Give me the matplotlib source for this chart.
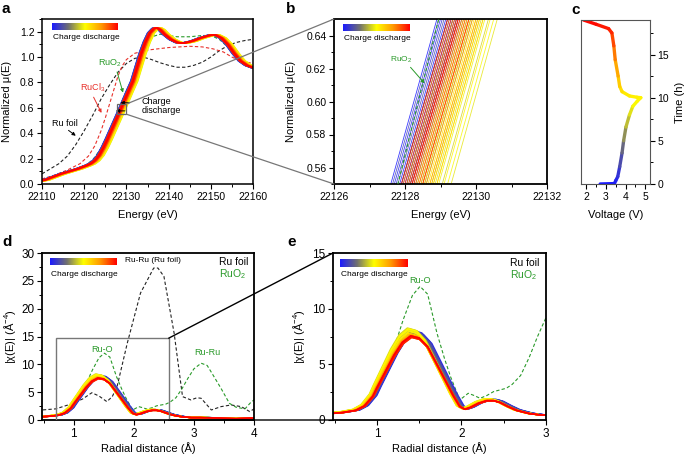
import numpy as np
import matplotlib
matplotlib.use('Agg')
import matplotlib.pyplot as plt
from matplotlib.colors import LinearSegmentedColormap, Normalize
from matplotlib.collections import LineCollection
from matplotlib.patches import Rectangle, ConnectionPatch
from matplotlib.ticker import MultipleLocator, FormatStrFormatter

plt.rcParams['font.family'] = ['Liberation Sans', 'DejaVu Sans']
plt.rcParams['mathtext.fontset'] = 'custom'
plt.rcParams['mathtext.rm'] = 'Liberation Sans'
plt.rcParams['mathtext.it'] = 'Liberation Sans:italic'
plt.rcParams['mathtext.bf'] = 'Liberation Sans:bold'

# ---------------- data ----------------
# XANES, in-situ spectra (first spectrum, others shifted in energy)
xanes_energy = [22105, 22110, 22112, 22114, 22116, 22118, 22120, 22121, 22122, 22123,
                22124, 22125, 22126, 22127, 22127.6, 22128.9, 22130, 22131, 22132,
                22133, 22134, 22135, 22136, 22136.7, 22137.5, 22138.5, 22140, 22141.5,
                22143, 22145, 22147, 22149, 22150.5, 22152, 22153.5, 22155, 22156.5,
                22158, 22160, 22162]
xanes_mu = [0.01, 0.03, 0.055, 0.08, 0.10, 0.12, 0.145, 0.16, 0.185, 0.225,
            0.285, 0.355, 0.43, 0.505, 0.55, 0.65, 0.735, 0.81, 0.92,
            1.03, 1.12, 1.19, 1.225, 1.23, 1.215, 1.18, 1.14, 1.115,
            1.11, 1.125, 1.15, 1.17, 1.175, 1.15, 1.10, 1.03, 0.97,
            0.935, 0.91, 0.89]
xanes_shift = [0.0, 0.25, 0.1, 0.4, 0.15, 0.55, 0.3, 0.05, 0.45, 0.2, 0.6, 0.35, 0.5, 0.3,
               0.45, 0.7, 0.55, 0.85, 0.65, 0.95, 0.75, 1.0,
               1.15, 1.45, 1.25, 1.7, 1.35, 1.6, 1.2, 1.5, 1.3, 1.1,
               1.05, 1.3, 0.9, 1.2, 0.95, 1.15, 0.85, 1.1, 0.8, 1.0, 0.75, 0.9,
               0.7, 0.45, 0.8, 0.35, 0.6, 0.5, 0.9, 0.4, 0.65, 0.55, 0.3, 0.6]

# XANES references
foil_energy = [22110, 22112, 22114, 22116, 22118, 22120, 22122, 22124, 22126, 22128,
               22130, 22132, 22134, 22136, 22138, 22140, 22142, 22144, 22146, 22148,
               22150, 22152, 22154, 22156, 22158, 22160]
foil_mu = [0.08, 0.12, 0.16, 0.22, 0.31, 0.42, 0.54, 0.67, 0.78, 0.88,
           0.95, 0.99, 1.0, 0.98, 0.955, 0.935, 0.92, 0.92, 0.935, 0.96,
           1.0, 1.05, 1.09, 1.115, 1.13, 1.14]
rucl3_energy = [22110, 22113, 22116, 22119, 22121, 22122.5, 22124, 22125, 22126, 22127,
                22128, 22129, 22130, 22132, 22135, 22140, 22145, 22148, 22150.5,
                22153, 22155, 22157, 22160]
rucl3_mu = [0.04, 0.07, 0.11, 0.16, 0.22, 0.30, 0.42, 0.52, 0.63, 0.74,
            0.85, 0.93, 0.98, 1.03, 1.055, 1.075, 1.085, 1.08, 1.065,
            1.04, 1.0, 0.97, 0.95]
ruo2_energy = [22110, 22115, 22120, 22122, 22124, 22126, 22127.8, 22128.95, 22130, 22131,
               22132, 22133, 22134, 22135, 22136, 22138, 22140, 22142, 22145, 22148,
               22150, 22152, 22154, 22156, 22158, 22160]
ruo2_mu = [0.03, 0.08, 0.14, 0.19, 0.28, 0.42, 0.55, 0.65, 0.73, 0.80,
           0.89, 0.98, 1.06, 1.12, 1.16, 1.18, 1.17, 1.16, 1.16, 1.17,
           1.17, 1.14, 1.08, 1.01, 0.96, 0.93]

# voltage profile
volt_time = [0, 0.05, 0.4, 0.85, 2.0, 3.6, 5.0, 6.6, 8.0, 9.0, 9.6, 10.0, 10.05, 10.2,
             10.7, 11.3, 12.5, 14.4, 16.0, 17.5, 18.0, 18.5, 19.0]
volt_value = [2.7, 3.43, 3.5, 3.6, 3.7, 3.82, 3.9, 4.02, 4.2, 4.37, 4.6, 4.78, 4.58, 4.2,
              3.82, 3.7, 3.62, 3.47, 3.4, 3.3, 3.13, 2.5, 1.85]

# FT-EXAFS
exafs_r = [0.3, 0.45, 0.6, 0.75, 0.85, 0.95, 1.0, 1.1, 1.2, 1.3, 1.4, 1.5, 1.6, 1.7,
           1.8, 1.9, 1.98, 2.04, 2.1, 2.2, 2.3, 2.38, 2.45, 2.55, 2.65, 2.8, 2.95,
           3.1, 3.3, 3.5, 3.7, 3.85, 4.0, 4.2]
exafs_amp = [0.5, 0.6, 0.7, 0.9, 1.3, 2.2, 3.0, 4.5, 6.0, 7.2, 7.8, 7.6, 6.8, 5.3,
             3.8, 2.3, 1.25, 1.0, 1.15, 1.55, 1.8, 1.8, 1.65, 1.25, 0.9, 0.6, 0.45,
             0.45, 0.4, 0.3, 0.25, 0.3, 0.35, 0.35]
exafs_scale = [1.0, 1.02, 1.01, 1.03, 1.0, 1.02, 1.01, 1.0, 0.99, 1.0,
               1.0, 1.01, 1.02, 1.03, 1.04, 1.05,
               1.05, 1.06, 1.04, 1.03, 1.05, 1.02, 1.0, 0.99,
               0.98, 0.97, 0.99, 0.96, 0.98, 0.97, 0.96, 0.97,
               0.96, 0.97, 0.95, 0.96, 0.97, 0.95, 0.96, 0.97]
exafs_shift = [0.04, 0.03, 0.05, 0.03, 0.04, 0.02, 0.03, 0.02, 0.02, 0.01,
               0.0, 0.0, -0.01, -0.01, -0.02, -0.02,
               -0.03, -0.04, -0.03, -0.04, -0.03, -0.02, -0.03, -0.02,
               -0.02, -0.01, -0.01, 0.0, -0.01, 0.0, 0.0, -0.01,
               0.0, 0.0, 0.01, 0.0, 0.0, 0.01, 0.0, 0.0]

foil_r = [0.3, 0.47, 0.7, 0.99, 1.15, 1.3, 1.42, 1.55, 1.64, 1.72, 1.89, 2.11, 2.33, 2.4,
          2.5, 2.67, 2.81, 2.95, 3.05, 3.12, 3.29, 3.45, 3.62, 3.79, 3.93, 4.0, 4.2]
foil_amp = [1.7, 1.8, 2.0, 3.0, 3.8, 4.9, 4.3, 3.3, 4.2, 6.0, 13.8, 22.8, 27.3, 27.3,
            25.8, 15.6, 4.2, 3.6, 4.0, 3.9, 1.8, 2.4, 2.7, 2.4, 1.5, 2.0, 2.0]
ruo2_r = [0.3, 0.47, 0.6, 0.8, 0.9, 1.0, 1.1, 1.2, 1.31, 1.42, 1.51, 1.6, 1.71, 1.8, 1.87,
          1.98, 2.08, 2.15, 2.22, 2.3, 2.38, 2.53, 2.6, 2.7, 2.8, 2.9, 3.0, 3.12,
          3.22, 3.3, 3.45, 3.59, 3.7, 3.85, 3.95, 4.0, 4.2]
ruo2_amp = [0.7, 0.7, 0.75, 0.9, 1.6, 3.0, 4.6, 6.4, 9.0, 11.2, 12.0, 11.3, 7.8, 5.5, 3.9,
            1.8, 2.4, 2.2, 1.95, 2.2, 2.55, 2.85, 3.2, 4.0, 5.6, 7.5, 9.2, 10.2,
            9.8, 8.4, 5.7, 3.0, 2.3, 2.0, 3.2, 3.6, 3.6]

# ---------------- style ----------------
cmap = LinearSegmentedColormap.from_list(
    'cd', [(0.0, '#1a1aff'), (0.25, '#707070'), (0.5, '#ffff00'),
           (0.75, '#ff9900'), (1.0, '#ff0000')])
c_foil = '#222222'
c_rucl3 = '#e8302a'
c_ruo2 = '#2a9a2a'
dash = (0, (3, 2))

W, H = 685, 455
fig = plt.figure(figsize=(W / 100, H / 100), dpi=100)


def px_axes(x0, y0, x1, y1):
    return fig.add_axes([x0 / W, 1 - y1 / H, (x1 - x0) / W, (y1 - y0) / H])


def grad_bar(x0, y0, x1, y1, tx, ty):
    g = px_axes(x0, y0, x1, y1)
    g.imshow(np.linspace(0, 1, 256)[None, :], aspect='auto', cmap=cmap)
    g.set_axis_off()
    fig.text(tx / W, 1 - ty / H, 'Charge discharge', fontsize=6,
             ha='left', va='center')


def style(ax, fs=7.5, lw=1.1):
    for s in ax.spines.values():
        s.set_linewidth(lw)
    ax.tick_params(which='major', direction='out', length=3.5, width=0.8, labelsize=fs, pad=2)
    ax.tick_params(which='minor', direction='out', length=2, width=0.7)


def xlabel(ax, text, y):
    ax.set_xlabel(text, fontsize=8, va='center')
    ax.xaxis.set_label_coords(0.5, y)


def ylabel(ax, text, x):
    ax.set_ylabel(text, fontsize=8, va='center')
    ax.yaxis.set_label_coords(x, 0.5)


nx = len(xanes_shift)
ne = len(exafs_shift)

# ---------------- panel a ----------------
ax_a = px_axes(42, 19, 253, 184)
ax_a.plot(foil_energy, foil_mu, color=c_foil, lw=0.8, ls=dash)
ax_a.plot(rucl3_energy, rucl3_mu, color=c_rucl3, lw=0.8, ls=dash)
ax_a.plot(ruo2_energy, ruo2_mu, color=c_ruo2, lw=0.8, ls=dash)
for i, s in enumerate(xanes_shift):
    ax_a.plot(np.array(xanes_energy) + s, xanes_mu, color=cmap(i / (nx - 1)), lw=1.0)
ax_a.set_xlim(22110, 22160)
ax_a.set_ylim(0, 1.3)
ax_a.xaxis.set_major_locator(MultipleLocator(10))
ax_a.xaxis.set_minor_locator(MultipleLocator(5))
ax_a.yaxis.set_major_locator(MultipleLocator(0.2))
ax_a.yaxis.set_minor_locator(MultipleLocator(0.1))
style(ax_a)
xlabel(ax_a, 'Energy (eV)', -0.19)
ylabel(ax_a, 'Normalized μ(E)', -0.165)
ax_a.add_patch(Rectangle((22127.7, 0.55), 2.3, 0.08, fill=False, ec='#666666', lw=0.9, zorder=5))
arr = dict(arrowstyle='-|>', lw=0.7, mutation_scale=5, shrinkA=0, shrinkB=0)
ax_a.annotate('RuO$_2$', xy=(22129.2, 0.72), xytext=(22126.2, 0.95), color=c_ruo2,
              fontsize=6.5, ha='center', va='center',
              arrowprops=dict(arr, color=c_ruo2, relpos=(0.75, 0)))
ax_a.annotate('RuCl$_3$', xy=(22124.1, 0.56), xytext=(22121.9, 0.755), color=c_rucl3,
              fontsize=6.5, ha='center', va='center',
              arrowprops=dict(arr, color=c_rucl3, relpos=(0.5, 0)))
ax_a.annotate('Ru foil', xy=(22118.0, 0.38), xytext=(22115.4, 0.48), color='black',
              fontsize=6.5, ha='center', va='center',
              arrowprops=dict(arr, color='black', relpos=(0.5, 0)))
ax_a.text(22133.6, 0.615, 'Charge\ndischarge', fontsize=6.5, ha='left', va='center',
          linespacing=1.1)
ax_a.annotate('', xy=(22128.6, 0.64), xytext=(22130.8, 0.64), arrowprops=dict(arr, color='black'))
ax_a.annotate('', xy=(22127.5, 0.576), xytext=(22129.6, 0.576), arrowprops=dict(arr, color='black'))
grad_bar(52, 23, 118, 30, 53, 37.5)

# ---------------- panel b ----------------
ax_b = px_axes(334, 19, 547, 184)
for i, s in enumerate(xanes_shift):
    ax_b.plot(np.array(xanes_energy) + s, xanes_mu, color=cmap(i / (nx - 1)), lw=0.6, alpha=0.85)
ax_b.plot(ruo2_energy, ruo2_mu, color=c_ruo2, lw=0.8, ls=dash, zorder=4)
ax_b.set_xlim(22126, 22132)
ax_b.set_ylim(0.55, 0.65)
ax_b.xaxis.set_major_locator(MultipleLocator(2))
ax_b.xaxis.set_minor_locator(MultipleLocator(1))
ax_b.yaxis.set_major_locator(MultipleLocator(0.02))
ax_b.yaxis.set_minor_locator(MultipleLocator(0.01))
ax_b.yaxis.set_major_formatter(FormatStrFormatter('%.2f'))
style(ax_b, lw=1.3)
xlabel(ax_b, 'Energy (eV)', -0.19)
ylabel(ax_b, 'Normalized μ(E)', -0.2)
ax_b.annotate('RuO$_2$', xy=(22128.55, 0.611), xytext=(22127.9, 0.6255), color=c_ruo2,
              fontsize=6, ha='center', va='center',
              arrowprops=dict(arr, color=c_ruo2, relpos=(0.8, 0)))
grad_bar(343, 24, 410, 31.5, 344, 38.5)

for ya, yb in [(0.63, 1), (0.55, 0)]:
    con = ConnectionPatch(xyA=(22130, ya), coordsA=ax_a.transData,
                          xyB=(0, yb), coordsB=ax_b.transAxes,
                          color='#777777', lw=0.9)
    fig.add_artist(con)

# ---------------- panel c ----------------
ax_c = px_axes(581, 20, 650, 184)
pts = np.column_stack([volt_value, volt_time])
segs = np.stack([pts[:-1], pts[1:]], axis=1)
mid_t = (np.array(volt_time[:-1]) + np.array(volt_time[1:])) / 2
lc = LineCollection(segs, cmap=cmap, norm=Normalize(0, 19), lw=2.4, capstyle='round')
lc.set_array(mid_t)
ax_c.add_collection(lc)
ax_c.set_xlim(1.72, 5.25)
ax_c.set_ylim(0, 19)
ax_c.yaxis.tick_right()
ax_c.yaxis.set_label_position('right')
ax_c.xaxis.set_major_locator(MultipleLocator(1))
ax_c.xaxis.set_minor_locator(MultipleLocator(0.5))
ax_c.yaxis.set_major_locator(MultipleLocator(5))
ax_c.yaxis.set_minor_locator(MultipleLocator(2.5))
style(ax_c, lw=0.8)
for s in ax_c.spines.values():
    s.set_color('#555555')
xlabel(ax_c, 'Voltage (V)', -0.19)
ax_c.set_ylabel('Time (h)', fontsize=8, va='center', rotation=90)
ax_c.yaxis.set_label_coords(1.43, 0.5)

# ---------------- panel d ----------------
ax_d = px_axes(42, 253, 254, 420)
ax_d.plot(foil_r, foil_amp, color=c_foil, lw=0.8, ls=dash)
ax_d.plot(ruo2_r, ruo2_amp, color=c_ruo2, lw=0.8, ls=dash)
for i in range(ne):
    ax_d.plot(np.array(exafs_r) + exafs_shift[i], np.array(exafs_amp) * exafs_scale[i],
              color=cmap(i / (ne - 1)), lw=1.0)
ax_d.set_xlim(0.47, 4)
ax_d.set_ylim(0, 30)
ax_d.xaxis.set_major_locator(MultipleLocator(1))
ax_d.xaxis.set_minor_locator(MultipleLocator(0.5))
ax_d.yaxis.set_major_locator(MultipleLocator(5))
ax_d.yaxis.set_minor_locator(MultipleLocator(2.5))
style(ax_d, fs=8.5, lw=1.3)
xlabel(ax_d, 'Radial distance (Å)', -0.17)
ylabel(ax_d, '|χ(E)| (Å$^{-4}$)', -0.15)
ax_d.add_patch(Rectangle((0.71, 0), 1.87, 14.7, fill=False, ec='#777777', lw=1.0, zorder=5))
ax_d.text(2.32, 28.7, 'Ru-Ru (Ru foil)', fontsize=6, ha='center', va='center')
ax_d.text(3.42, 28.3, 'Ru foil', fontsize=7.5, ha='left', va='center')
ax_d.text(3.42, 26.2, 'RuO$_2$', fontsize=7.5, ha='left', va='center', color=c_ruo2)
ax_d.text(1.47, 11.9, 'Ru-O', fontsize=6.5, ha='center', va='bottom', color=c_ruo2)
ax_d.text(3.22, 11.3, 'Ru-Ru', fontsize=6.5, ha='center', va='bottom', color=c_ruo2)
grad_bar(50, 258, 117, 265, 51, 274)

# ---------------- panel e ----------------
ax_e = px_axes(333, 253, 546, 420)
ax_e.plot(ruo2_r, ruo2_amp, color=c_ruo2, lw=0.8, ls=dash)
for i in range(ne):
    ax_e.plot(np.array(exafs_r) + exafs_shift[i], np.array(exafs_amp) * exafs_scale[i],
              color=cmap(i / (ne - 1)), lw=1.0)
ax_e.set_xlim(0.48, 3)
ax_e.set_ylim(0, 15)
ax_e.xaxis.set_major_locator(MultipleLocator(1))
ax_e.xaxis.set_minor_locator(MultipleLocator(0.5))
ax_e.yaxis.set_major_locator(MultipleLocator(5))
ax_e.yaxis.set_minor_locator(MultipleLocator(2.5))
style(ax_e, fs=8.5, lw=1.3)
xlabel(ax_e, 'Radial distance (Å)', -0.17)
ylabel(ax_e, '|χ(E)| (Å$^{-4}$)', -0.16)
ax_e.text(2.57, 14.1, 'Ru foil', fontsize=7.5, ha='left', va='center')
ax_e.text(2.57, 13.0, 'RuO$_2$', fontsize=7.5, ha='left', va='center', color=c_ruo2)
ax_e.text(1.51, 12.5, 'Ru-O', fontsize=6.5, ha='center', va='center', color=c_ruo2)
grad_bar(340, 259, 408, 267, 341, 274)

for yd, ye in [(14.7, 1), (0, 0)]:
    con = ConnectionPatch(xyA=(2.58, yd), coordsA=ax_d.transData,
                          xyB=(0, ye), coordsB=ax_e.transAxes,
                          color='black', lw=1.0)
    fig.add_artist(con)

# panel letters
for lab, x, y in [('a', 2, 9), ('b', 286, 9), ('c', 571, 10), ('d', 2, 242), ('e', 287, 242)]:
    fig.text(x / W, 1 - y / H, lab, fontsize=11, fontweight='bold', ha='left', va='center')

fig.savefig('out.png', dpi=100)
